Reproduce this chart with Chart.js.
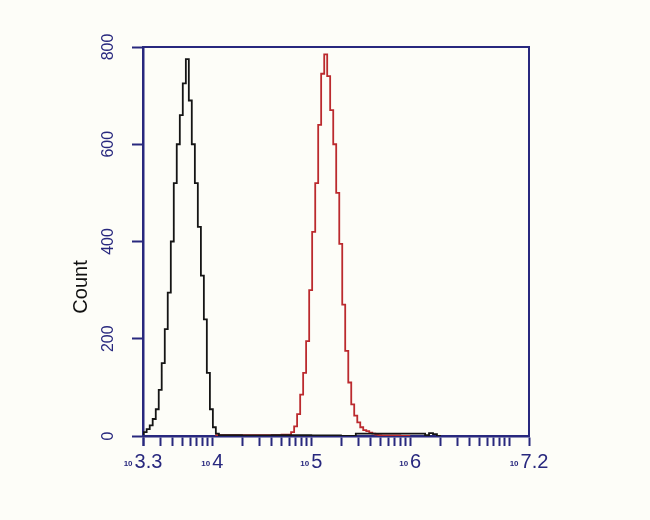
<!DOCTYPE html>
<html>
<head>
<meta charset="utf-8">
<script src="https://cdn.jsdelivr.net/npm/chart.js@4/dist/chart.umd.min.js"></script>
<style>
  html, body { margin: 0; padding: 0; background: #fdfdf8; }
  #wrap { width: 650px; height: 520px; }
</style>
</head>
<body>
<div id="wrap"><canvas id="histogram"></canvas></div>
<script>
// Histogram bins: bin start as log10 of intensity, then count
const blackExp = [3.307, 3.337, 3.368, 3.398, 3.429, 3.459, 3.489, 3.520, 3.550, 3.581,
  3.611, 3.641, 3.672, 3.702, 3.733, 3.763, 3.793, 3.824, 3.854, 3.885,
  3.915, 3.945, 3.976, 4.006, 4.036, 4.067, 4.097, 4.30, 4.60, 5.00,
  5.30, 5.45, 6.15, 6.19, 6.23, 6.27, 6.31];
const blackCount = [2, 8, 14, 22, 35, 55, 95, 150, 220, 295,
  400, 520, 600, 660, 725, 775, 690, 600, 520, 430,
  330, 240, 130, 55, 18, 5, 2, 2, 1, 2,
  1, 0, 5, 2, 6, 4, 0];

const redExp = [4.03, 4.40, 4.70, 4.796, 4.827, 4.857, 4.888, 4.918, 4.948, 4.979,
  5.009, 5.040, 5.070, 5.100, 5.131, 5.161, 5.191, 5.222, 5.252, 5.283,
  5.313, 5.343, 5.374, 5.404, 5.434, 5.465, 5.495, 5.525, 5.556, 5.586,
  5.617, 5.647, 5.677, 5.708, 5.90, 6.00];
const redCount = [2, 2, 2, 3, 8, 20, 45, 85, 130, 195,
  300, 420, 520, 640, 745, 785, 740, 670, 600, 500,
  395, 270, 175, 110, 65, 42, 28, 18, 12, 10,
  7, 5, 3, 2, 1, 0];

// Axis ends and labelled decades (exponents of 10)
const xMinExp = 3.3;
const xMaxExp = 7.2;
const xLabelExp = [3.3, 4, 5, 6, 7.2];
const xLabelText = ["3.3", "4", "5", "6", "7.2"];
const yTicks = [0, 200, 400, 600, 800];

const navy = "#28287e";

function toPoints(exps, counts) {
  return exps.map((e, i) => ({ x: Math.pow(10, e), y: counts[i] }));
}

// Frame on top/right, decade labels like 10^4 and the "Count" title
const decorPlugin = {
  id: "decor",
  afterDraw(chart) {
    const ctx = chart.ctx;
    const area = chart.chartArea;
    const xScale = chart.scales.x;

    ctx.save();
    ctx.strokeStyle = navy;
    ctx.lineWidth = 2;
    ctx.beginPath();
    ctx.moveTo(area.left, area.top);
    ctx.lineTo(area.right, area.top);
    ctx.lineTo(area.right, area.bottom);
    ctx.stroke();

    ctx.fillStyle = navy;
    ctx.textBaseline = "alphabetic";
    xLabelExp.forEach((e, i) => {
      const px = xScale.getPixelForValue(Math.pow(10, e));
      ctx.font = "bold 8px Arial";
      const baseW = ctx.measureText("10").width;
      ctx.font = "20px Arial";
      const expW = ctx.measureText(xLabelText[i]).width;
      const left = px - (baseW + 2 + expW) / 2;
      ctx.font = "bold 8px Arial";
      ctx.textAlign = "left";
      ctx.fillText("10", left, 466);
      ctx.font = "20px Arial";
      ctx.fillText(xLabelText[i], left + baseW + 2, 468);
    });

    ctx.translate(81, 287);
    ctx.rotate(-Math.PI / 2);
    ctx.fillStyle = "#111";
    ctx.font = "20px Arial";
    ctx.textAlign = "center";
    ctx.textBaseline = "middle";
    ctx.fillText("Count", 0, 0);
    ctx.restore();
  },
};

new Chart(document.getElementById("histogram"), {
  type: "line",
  data: {
    datasets: [
      {
        label: "control",
        data: toPoints(blackExp, blackCount),
        borderColor: "#151515",
        borderWidth: 1.8,
        stepped: "after",
        pointRadius: 0,
        fill: false,
      },
      {
        label: "sample",
        data: toPoints(redExp, redCount),
        borderColor: "#bb2a2e",
        borderWidth: 1.8,
        stepped: "after",
        pointRadius: 0,
        fill: false,
      },
    ],
  },
  options: {
    responsive: true,
    maintainAspectRatio: false,
    animation: false,
    layout: { padding: { left: 70, top: 47, right: 121, bottom: 0 } },
    plugins: {
      legend: { display: false },
      tooltip: { enabled: false },
    },
    scales: {
      x: {
        type: "logarithmic",
        min: Math.pow(10, xMinExp),
        max: Math.pow(10, xMaxExp),
        afterBuildTicks: (scale) => {
          const ticks = [{ value: Math.pow(10, xMinExp) }];
          for (let e = 3; e <= 7; e++) {
            for (let m = 1; m <= 9; m++) {
              const v = m * Math.pow(10, e);
              if (v > Math.pow(10, xMinExp) && v < Math.pow(10, xMaxExp)) {
                ticks.push({ value: v });
              }
            }
          }
          ticks.push({ value: Math.pow(10, xMaxExp) });
          scale.ticks = ticks;
        },
        afterFit: (scale) => {
          scale.height = 84;
        },
        ticks: { display: false },
        grid: {
          drawOnChartArea: false,
          drawTicks: true,
          tickLength: 10,
          tickColor: navy,
          tickWidth: 2,
        },
        border: { color: navy, width: 2.5 },
      },
      y: {
        min: 0,
        max: 800,
        afterBuildTicks: (scale) => {
          scale.ticks = yTicks.map((v) => ({ value: v }));
        },
        afterFit: (scale) => {
          scale.width = 73;
        },
        ticks: {
          color: navy,
          font: { family: "Arial", size: 16 },
          minRotation: 90,
          maxRotation: 90,
          crossAlign: "center",
          padding: 10,
        },
        grid: {
          drawOnChartArea: false,
          drawTicks: true,
          tickLength: 11,
          tickColor: navy,
          tickWidth: 2,
        },
        border: { color: navy, width: 2.5 },
      },
    },
  },
  plugins: [decorPlugin],
});
</script>
</body>
</html>
